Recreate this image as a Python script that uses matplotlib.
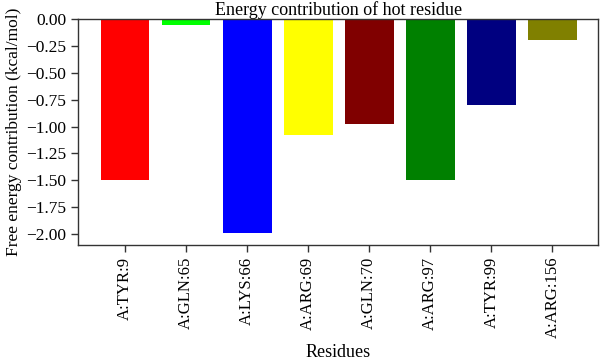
import matplotlib
matplotlib.use("Agg")
import matplotlib.pyplot as plt

residues = ["A:TYR:9", "A:GLN:65", "A:LYS:66", "A:ARG:69", "A:GLN:70", "A:ARG:97", "A:TYR:99", "A:ARG:156"]
energies = [-1.50, -0.06, -1.99, -1.08, -0.98, -1.50, -0.80, -0.20]
colors = ["#ff0000", "#00ff00", "#0000ff", "#ffff00", "#800000", "#008000", "#000080", "#808000"]
yticks = [0.00, -0.25, -0.50, -0.75, -1.00, -1.25, -1.50, -1.75, -2.00]

plt.rcParams['font.family'] = ['Liberation Serif', 'DejaVu Serif']
fig = plt.figure(figsize=(6, 3.63), dpi=100)
ax = fig.add_axes([0.13, 0.325, 0.867, 0.623])
x = list(range(len(residues)))
ax.bar(x, energies, width=0.8, color=colors)
ax.set_xticks(x)
ax.set_xticklabels(residues, rotation=90, fontsize=12)
ax.set_yticks(yticks)
ax.set_yticklabels([f"{v:.2f}".replace("-", "\u2212") for v in yticks], fontsize=12.5)
ax.set_ylim(-2.10, 0)
ax.set_xlim(-0.77, 7.75)
ax.set_title("Energy contribution of hot residue", fontsize=13, pad=2)
ax.set_ylabel("Free energy contribution (kcal/mol)", fontsize=12.5, labelpad=3)
ax.set_xlabel("Residues", fontsize=13)
for s in ax.spines.values():
    s.set_linewidth(1.0)
    s.set_color("#333333")
ax.tick_params(length=5, width=1, color="#333333")
fig.savefig("out.png", dpi=100)
